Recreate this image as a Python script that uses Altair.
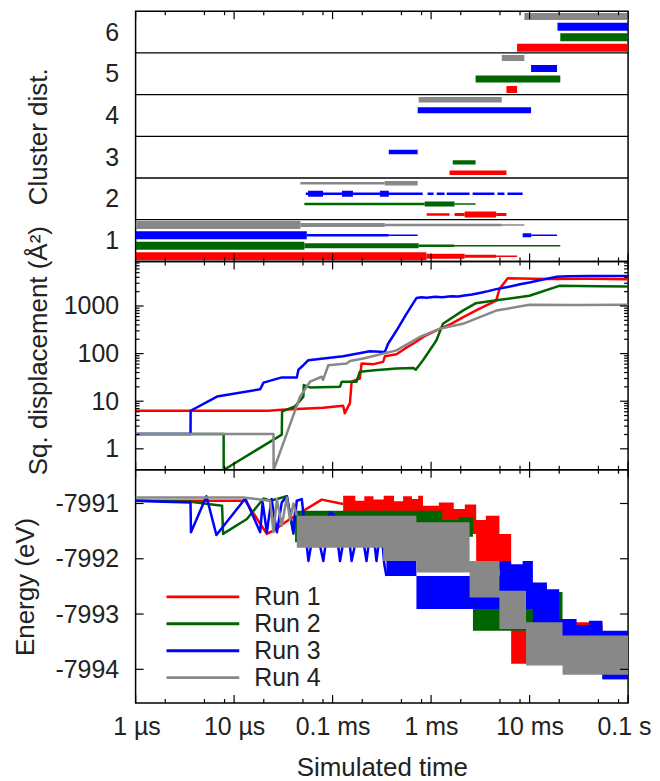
import altair as alt
import pandas as pd

FONT = "Liberation Sans"
TXT = "#222222"
RUNS = ["Run 1", "Run 2", "Run 3", "Run 4"]
RUN_COLORS = ["#ff0000", "#006400", "#0000ff", "#888888"]

# ---------------- x axis (simulated time, seconds) ----------------
X_MAJOR = [1e-6, 1e-5, 1e-4, 1e-3, 1e-2, 1e-1]
X_LABELS = ["1 µs", "10 µs", "0.1 ms", "1 ms", "10 ms", "0.1 s"]
X_MINOR = [2e-6, 5e-6, 8e-6, 2e-5, 5e-5, 8e-5, 2e-4, 5e-4, 8e-4,
           2e-3, 5e-3, 8e-3, 2e-2, 5e-2, 8e-2]

# ---------------- top panel: cluster distribution ----------------
SEG_RUN = ["Run 4", "Run 3", "Run 2", "Run 1",
           "Run 4", "Run 3", "Run 2", "Run 1",
           "Run 4", "Run 3",
           "Run 3", "Run 2", "Run 1",
           "Run 4", "Run 4",
           "Run 3", "Run 3", "Run 3", "Run 3", "Run 3", "Run 3", "Run 3", "Run 3", "Run 3", "Run 3",
           "Run 2", "Run 2", "Run 2",
           "Run 1", "Run 1", "Run 1", "Run 1",
           "Run 4", "Run 4", "Run 4", "Run 4",
           "Run 3", "Run 3", "Run 3", "Run 3", "Run 3",
           "Run 2", "Run 2", "Run 2", "Run 2",
           "Run 1", "Run 1", "Run 1", "Run 1"]
SEG_SIZE = [6, 6, 6, 6,
            5, 5, 5, 5,
            4, 4,
            3, 3, 3,
            2, 2,
            2, 2, 2, 2, 2, 2, 2, 2, 2, 2,
            2, 2, 2,
            2, 2, 2, 2,
            1, 1, 1, 1,
            1, 1, 1, 1, 1,
            1, 1, 1, 1,
            1, 1, 1, 1]
SEG_START = [8.85e-3, 1.92e-2, 2.05e-2, 7.47e-3,
             5.22e-3, 1.035e-2, 2.83e-3, 5.82e-3,
             7.48e-4, 7.31e-4,
             3.72e-4, 1.66e-3, 1.54e-3,
             4.71e-5, 3.39e-4,
             5.34e-5, 5.64e-5, 1.245e-4, 3.02e-4, 9.2e-4, 1.14e-3, 1.44e-3, 2.64e-3, 4.72e-3, 5.96e-3,
             5.17e-5, 8.61e-4, 1.73e-3,
             9.02e-4, 1.73e-3, 2.19e-3, 4.58e-3,
             1e-6, 4.71e-5, 3.39e-4, 5.22e-3,
             1e-6, 5.47e-5, 3.72e-4, 8.51e-3, 1.04e-2,
             1e-6, 5.17e-5, 7.48e-4, 1.73e-3,
             1e-6, 8.96e-4, 2.19e-3, 4.58e-3]
SEG_END = [0.1, 0.1, 0.1, 0.1,
           8.85e-3, 1.9e-2, 2.05e-2, 7.47e-3,
           5.22e-3, 1.035e-2,
           7.31e-4, 2.83e-3, 5.82e-3,
           3.39e-4, 7.31e-4,
           8.22e-4, 8.0e-5, 1.61e-4, 3.72e-4, 1.06e-3, 1.37e-3, 2.46e-3, 4.4e-3, 5.56e-3, 8.5e-3,
           8.61e-4, 1.73e-3, 2.83e-3,
           1.54e-3, 2.19e-3, 4.58e-3, 5.82e-3,
           4.71e-5, 3.39e-4, 5.22e-3, 8.85e-3,
           5.47e-5, 3.72e-4, 7.31e-4, 1.04e-2, 1.9e-2,
           5.17e-5, 7.48e-4, 1.73e-3, 2.05e-2,
           8.96e-4, 2.19e-3, 4.58e-3, 7.47e-3]
SEG_WIDTH = [7, 8, 8, 8,
             6, 7, 7, 7,
             5.5, 6,
             4.5, 4.5, 4.5,
             2.5, 4.5,
             2.5, 6, 6, 6, 2.5, 2.5, 2.5, 2.5, 2.5, 2.5,
             2.5, 5, 1.5,
             2.5, 3, 6, 3,
             8, 4, 2.5, 1.5,
             8, 2.5, 1.5, 4, 1.5,
             8, 5, 2.5, 1.5,
             8, 5, 3, 1.5]
CLUSTER_SIZES = [1, 2, 3, 4, 5, 6]
CLUSTER_SEPARATORS = [1.5, 2.5, 3.5, 4.5, 5.5]

# ---------------- middle panel: squared displacement ----------------
MSD_T = {
    "Run 1": [1e-6, 2.24e-5, 3.05e-5, 8.0e-5, 1.28e-4, 1.33e-4, 1.50e-4, 1.56e-4, 1.89e-4, 1.97e-4,
              2.6e-4, 3.26e-4, 3.39e-4, 4.46e-4, 5.5e-4, 6.56e-4, 8.5e-4, 1.22e-3, 1.6e-3, 2.10e-3,
              3.0e-3, 4.58e-3, 4.94e-3, 6.0e-3, 1.5e-2, 4.0e-2, 0.1],
    "Run 2": [1e-6, 7.83e-6, 7.84e-6, 3.05e-5, 3.07e-5, 4.16e-5, 5.05e-5, 5.1e-5, 5.9e-5, 1.19e-4,
              1.24e-4, 1.75e-4, 1.89e-4, 2.69e-4, 4.46e-4, 6.56e-4, 6.99e-4, 8.28e-4, 1.13e-3, 1.32e-3,
              2.10e-3, 2.83e-3, 5.0e-3, 9.95e-3, 2.0e-2, 5.0e-2, 0.1],
    "Run 3": [1e-6, 3.61e-6, 3.62e-6, 6.71e-6, 1.84e-5, 1.99e-5, 3.05e-5, 4.33e-5, 4.50e-5, 5.05e-5,
              5.68e-5, 1.28e-4, 2.39e-4, 3.39e-4, 3.66e-4, 4.46e-4, 5.62e-4, 7.10e-4, 8.0e-4, 9.0e-4,
              1.1e-3, 1.3e-3, 1.6e-3, 1.9e-3, 2.10e-3, 2.6e-3, 3.2e-3, 3.8e-3, 4.58e-3, 6.0e-3,
              8.0e-3, 9.95e-3, 1.3e-2, 1.85e-2, 2.5e-2, 4.0e-2, 0.1],
    "Run 4": [1e-6, 2.51e-5, 2.52e-5, 4.68e-5, 5.9e-5, 7.76e-5, 8.0e-5, 9.05e-5, 1.39e-4, 1.50e-4,
              2.05e-4, 4.46e-4, 7.67e-4, 1.22e-3, 2.10e-3, 4.58e-3, 9.95e-3, 3.0e-2, 0.1],
}
MSD_V = {
    "Run 1": [6.3, 6.3, 6.6, 7.3, 8.0, 5.6, 9.1, 25.7, 30, 62,
              60, 67, 88, 97, 130, 161, 230, 332, 420, 577,
              850, 1300, 2260, 3830, 3700, 3750, 3650],
    "Run 2": [2.05, 2.05, 0.36, 1.99, 6.1, 7.8, 12.5, 21.8, 19.5, 20.2,
              25.7, 25.7, 41.6, 44.6, 48.7, 50, 46, 72.6, 189, 422,
              800, 1137, 1350, 1640, 2650, 2600, 2560],
    "Run 3": [2.05, 2.05, 6.3, 12.5, 17.8, 24.5, 31.6, 31.6, 46, 57,
              72.6, 88, 112, 108, 161, 305, 680, 1468, 1520, 1490,
              1560, 1530, 1600, 1580, 1640, 1750, 1900, 2050, 2260, 2500,
              2850, 3100, 3500, 4090, 4200, 4250, 4270],
    "Run 4": [2.05, 2.05, 0.36, 12.5, 25.7, 32.6, 28, 57, 62, 70,
              78.6, 117, 223, 332, 422, 800, 1060, 1050, 1060],
}
MSD_MAJOR = [1, 10, 100, 1000]
MSD_MINOR = [2, 3, 4, 5, 6, 7, 8, 9, 20, 30, 40, 50, 60, 70, 80, 90,
             200, 300, 400, 500, 600, 700, 800, 900,
             2000, 3000, 4000, 5000, 6000, 7000, 8000]

# ---------------- bottom panel: energy ----------------
EN_T = {
    "Run 1": [1e-6, 1.3e-5, 2.15e-5, 2.51e-5, 3.7e-5, 7.76e-5, 1.28e-4],
    "Run 2": [1e-6, 3.61e-6, 7.55e-6, 7.73e-6, 1.35e-5, 1.99e-5, 2.32e-5, 2.72e-5, 3.43e-5,
              4.0e-5, 4.16e-5],
    "Run 3": [1e-6, 1.94e-6, 3.61e-6, 3.65e-6, 5.24e-6, 6.61e-6, 1.30e-5, 1.84e-5, 1.95e-5,
              2.15e-5, 2.4e-5, 2.72e-5, 3.05e-5, 3.43e-5, 4.0e-5, 4.33e-5, 4.87e-5, 5.68e-5,
              6.64e-5, 8.05e-5, 9.41e-5, 1.05e-4, 1.19e-4, 1.40e-4, 1.56e-4, 1.9e-4, 2.21e-4,
              2.5e-4, 2.79e-4, 3.1e-4, 3.35e-4, 3.52e-4],
    "Run 4": [1e-6, 1.25e-5, 2.32e-5, 2.51e-5, 2.72e-5, 3.05e-5, 3.43e-5, 3.7e-5, 4.0e-5, 4.33e-5],
}
EN_V = {
    "Run 1": [-7990.95, -7990.95, -7991.55, -7991.49, -7991.28, -7990.93, -7991.01],
    "Run 2": [-7990.95, -7990.97, -7991.04, -7991.55, -7991.28, -7990.91, -7990.95, -7990.92,
              -7990.87, -7991.55, -7991.13],
    "Run 3": [-7990.95, -7990.97, -7990.98, -7991.52, -7990.87, -7991.57, -7990.91, -7991.52,
              -7990.98, -7991.52, -7990.92, -7991.52, -7990.98, -7990.87, -7991.52, -7990.95,
              -7990.92, -7992.04, -7991.34, -7992.04, -7991.16, -7991.22, -7992.04, -7991.3,
              -7992.04, -7991.3, -7992.04, -7991.3, -7992.04, -7991.4, -7992.1, -7992.31],
    "Run 4": [-7990.89, -7990.89, -7990.95, -7991.52, -7990.92, -7991.4, -7990.89, -7991.3,
              -7991.0, -7991.22],
}
# dense fluctuating stretches: start time, upper and lower envelope (step after)
BAND_T = {
    "Run 1": [1.28e-4, 1.7e-4, 2.1e-4, 2.6e-4, 3.3e-4, 4.2e-4, 5.2e-4, 6.4e-4, 7.4e-4, 8.28e-4,
              1.2e-3, 1.7e-3, 2.2e-3, 2.87e-3, 3.6e-3, 4.94e-3, 6.5e-3, 1.3e-2, 2.5e-2, 5.49e-2, 0.1],
    "Run 2": [4.16e-5, 8.28e-4, 1.3e-3, 1.9e-3, 2.66e-3, 3.6e-3, 4.94e-3, 9.21e-3, 1.5e-2,
              2.16e-2, 5.49e-2, 0.1],
    "Run 3": [3.52e-4, 7.10e-4, 4.94e-3, 6.5e-3, 8.5e-3, 1.08e-2, 1.5e-2, 2.0e-2, 3.0e-2,
              4.0e-2, 5.49e-2, 0.1],
    "Run 4": [4.33e-5, 3.26e-4, 7.10e-4, 2.46e-3, 4.94e-3, 9.21e-3, 2.16e-2, 0.1],
}
BAND_HI = {
    "Run 1": [-7990.86, -7990.95, -7990.87, -7990.93, -7990.86, -7990.96, -7990.87, -7990.92,
              -7990.86, -7991.04, -7990.98, -7991.1, -7991.02, -7991.30, -7991.22, -7991.55,
              -7993.15, -7993.22, -7993.15, -7993.5, -7993.5],
    "Run 2": [-7991.13, -7991.13, -7991.3, -7991.25, -7992.91, -7992.85, -7992.6, -7992.49,
              -7992.6, -7993.2, -7993.4, -7993.4],
    "Run 3": [-7992.04, -7992.31, -7992.04, -7992.1, -7992.04, -7992.43, -7992.55, -7993.09,
              -7993.2, -7993.12, -7993.3, -7993.3],
    "Run 4": [-7991.22, -7991.22, -7991.34, -7992.04, -7992.58, -7993.15, -7993.39, -7993.39],
}
BAND_LO = {
    "Run 1": [-7991.45, -7991.45, -7991.45, -7991.45, -7991.45, -7991.45, -7991.45, -7991.45,
              -7991.45, -7991.55, -7991.55, -7991.55, -7991.55, -7992.19, -7992.19, -7992.19,
              -7993.90, -7993.90, -7993.90, -7993.95, -7993.95],
    "Run 2": [-7991.7, -7991.6, -7991.6, -7991.6, -7993.30, -7993.30, -7993.3, -7993.27,
              -7993.27, -7993.9, -7994.18, -7994.18],
    "Run 3": [-7992.31, -7992.91, -7992.91, -7992.91, -7992.91, -7993.21, -7993.21, -7993.51,
              -7993.51, -7993.51, -7994.18, -7994.18],
    "Run 4": [-7991.8, -7992.04, -7992.25, -7992.7, -7993.27, -7993.93, -7994.1, -7994.1],
}
EN_MAJOR = [-7991, -7992, -7993, -7994]

# ---------------- layout ----------------
W = 494
H_TOP, H_MID, H_BOT = 251, 209, 234
MAJ, MIN = 8, 4

color_scale = alt.Scale(domain=RUNS, range=RUN_COLORS)
xs = alt.Scale(type="log", domain=[1e-6, 0.1], nice=False)


def label_expr(values, labels):
    expr = "''"
    for v, lab in reversed(list(zip(values, labels))):
        expr = f"(datum.value < {v * 3}) ? '{lab}' : {expr}"
    return expr


def x_ticks(h, xaxis):
    out = []
    for vals, L in ((X_MAJOR, MAJ), (X_MINOR, MIN)):
        base = alt.Chart(pd.DataFrame({"t": vals})).mark_rule(color="black", strokeWidth=1.2)
        out.append(base.encode(x=alt.X("t:Q", scale=xs, axis=xaxis), y=alt.value(0), y2=alt.value(L)))
        out.append(base.encode(x=alt.X("t:Q", scale=xs, axis=xaxis), y=alt.value(h), y2=alt.value(h - L)))
    return out


def y_ticks(vals, L, ys, yaxis):
    base = alt.Chart(pd.DataFrame({"v": vals})).mark_rule(color="black", strokeWidth=1.2)
    return [base.encode(y=alt.Y("v:Q", scale=ys, axis=yaxis), x=alt.value(0), x2=alt.value(L)),
            base.encode(y=alt.Y("v:Q", scale=ys, axis=yaxis), x=alt.value(W), x2=alt.value(W - L))]


# ---- top panel
seg = pd.DataFrame({"run": SEG_RUN, "size": SEG_SIZE, "t0": SEG_START,
                    "t1": SEG_END, "w": SEG_WIDTH})
seg["row"] = seg["size"] - 0.5 + 0.125 + 0.25 * seg["run"].map({r: i for i, r in enumerate(RUNS)})
ys_top = alt.Scale(domain=[0.5, 6.5], nice=False, zero=False)
y_axis_top = alt.Axis(values=CLUSTER_SIZES, format="d", title="Cluster dist.",
                      labelPadding=17, titleX=-97, titleBaseline="middle")

top_bars = alt.Chart(seg).mark_rule(strokeCap="butt", clip=True).encode(
    x=alt.X("t0:Q", scale=xs, axis=None),
    x2="t1:Q",
    y=alt.Y("row:Q", scale=ys_top, axis=y_axis_top),
    size=alt.Size("w:Q", scale=None),
    color=alt.Color("run:N", scale=color_scale, legend=None),
)
top_sep = alt.Chart(pd.DataFrame({"row": CLUSTER_SEPARATORS})).mark_rule(
    color="black", strokeWidth=1.3).encode(y=alt.Y("row:Q", scale=ys_top, axis=y_axis_top))
top = alt.layer(top_bars, top_sep, *x_ticks(H_TOP, None)).properties(width=W, height=H_TOP)

# ---- middle panel
ys_mid = alt.Scale(type="log", domain=[0.363, 8630], nice=False)
y_axis_mid = alt.Axis(values=MSD_MAJOR, format="d", title="Sq. displacement (Å²)",
                      labelPadding=17, titleX=-97, titleY=89, titleBaseline="middle")
mid_layers = []
for run in RUNS:
    df = pd.DataFrame({"t": MSD_T[run], "v": MSD_V[run], "run": run,
                       "i": range(len(MSD_T[run]))})
    mid_layers.append(alt.Chart(df).mark_line(strokeWidth=2.5, clip=True, strokeJoin="round").encode(
        x=alt.X("t:Q", scale=xs, axis=None),
        y=alt.Y("v:Q", scale=ys_mid, axis=y_axis_mid),
        order="i:Q",
        color=alt.Color("run:N", scale=color_scale, legend=None),
    ))
mid = alt.layer(*mid_layers, *x_ticks(H_MID, None),
                *y_ticks(MSD_MAJOR, MAJ, ys_mid, y_axis_mid),
                *y_ticks(MSD_MINOR, MIN, ys_mid, y_axis_mid)).properties(width=W, height=H_MID)

# ---- bottom panel
ys_bot = alt.Scale(domain=[-7994.61, -7990.39], nice=False, zero=False)
x_axis = alt.Axis(values=X_MAJOR, labelExpr=label_expr(X_MAJOR, X_LABELS),
                  labelFlush=True, labelFlushOffset=23,
                  title="Simulated time", labelPadding=12, titlePadding=15)
y_axis_bot = alt.Axis(values=EN_MAJOR, labelExpr="'' + datum.value", title="Energy (eV)",
                      labelPadding=17, titleX=-110, titleBaseline="middle")
leg = alt.Legend(orient="none", legendX=55, legendY=115, title=None,
                 symbolType="M-4,0H4", symbolSize=333,
                 symbolStrokeWidth=3, labelFontSize=25, labelFont=FONT,
                 labelColor=TXT, labelOffset=39, rowPadding=1, padding=0)
bot_layers = []
for run in RUNS:
    bdf = pd.DataFrame({"t": BAND_T[run], "v": BAND_HI[run], "lo": BAND_LO[run], "run": run})
    bot_layers.append(alt.Chart(bdf).mark_area(interpolate="step-after", clip=True).encode(
        x=alt.X("t:Q", scale=xs, axis=x_axis),
        y=alt.Y("v:Q", scale=ys_bot, axis=y_axis_bot),
        y2="lo:Q",
        color=alt.Color("run:N", scale=color_scale, legend=leg),
    ))
    ldf = pd.DataFrame({"t": EN_T[run], "v": EN_V[run], "run": run, "i": range(len(EN_T[run]))})
    bot_layers.append(alt.Chart(ldf).mark_line(strokeWidth=2.5, clip=True, strokeJoin="round").encode(
        x=alt.X("t:Q", scale=xs, axis=x_axis),
        y=alt.Y("v:Q", scale=ys_bot, axis=y_axis_bot),
        order="i:Q",
        color=alt.Color("run:N", scale=color_scale, legend=leg),
    ))
bot = alt.layer(*bot_layers, *x_ticks(H_BOT, x_axis),
                *y_ticks(EN_MAJOR, MAJ, ys_bot, y_axis_bot)).properties(width=W, height=H_BOT)

chart = alt.vconcat(top, mid, bot, spacing=0, bounds="flush").resolve_scale(
    color="independent"
).configure_view(
    stroke="black", strokeWidth=1.5
).configure_axis(
    labelFont=FONT, titleFont=FONT, labelFontSize=25, titleFontSize=26,
    labelColor=TXT, titleColor=TXT, titleFontWeight="normal",
    grid=False, domain=False, ticks=False, tickSize=0,
).properties(
    padding={"left": 4, "top": 0, "right": 0, "bottom": 0}, background="white"
)

chart.save("out.html", embed_options={"renderer": "svg", "actions": False})
